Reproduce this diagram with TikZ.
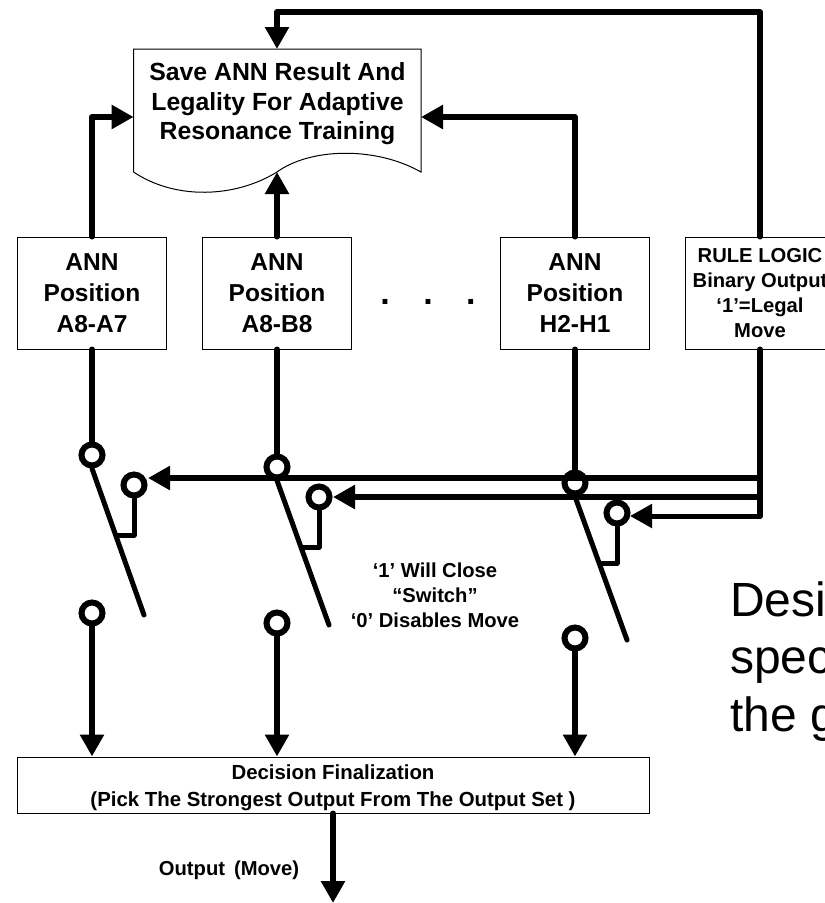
\documentclass[tikz,border=0pt]{standalone}
\usepackage{fontspec}
\setmainfont{Liberation Sans}
\usetikzlibrary{arrows.meta,positioning,calc}
\tikzset{
  annbox/.style={draw, line width=1pt, minimum width=149pt, minimum height=112pt, inner sep=0pt, align=center},
  annlabel/.style={font=\bfseries\fontsize{24.5}{31}\selectfont},
  smalllabel/.style={font=\bfseries\fontsize{20.2}{25}\selectfont, align=center, inner sep=0pt},
  contact/.style={circle, draw, fill=white, line width=6pt, minimum size=21pt, inner sep=0pt},
  wire/.style={line width=6pt, line join=round, line cap=round},
  thinwire/.style={line width=5pt, line join=round, line cap=round},
  flow/.style={wire, -{Triangle[length=22pt,width=23pt]}},
  sidetext/.style={anchor=base west, inner sep=0pt, font=\fontsize{48}{57.5}\selectfont}
}
\begin{document}
\begin{tikzpicture}[x=1pt,y=-1pt]
    \useasboundingbox (0,0) rectangle (825,903);
    \clip (0,0) rectangle (825,903);
    % result sheet with wavy lower edge
    \draw[line width=1pt] (133.6,172) -- (133.6,49) -- (421,49) -- (421,172)
      .. controls (375,146) and (310,148) .. (277,172)
      .. controls (235,198) and (175,200) .. (133.6,172);
    \node[align=center, inner sep=0pt, font=\bfseries\fontsize{24.8}{29.5}\selectfont] (saveResult) at (277.5,104)
      {Save ANN Result And\\Legality For Adaptive\\Resonance Training};
    \coordinate (saveTop) at (277,49);
    \coordinate (saveLeft) at (133.6,117);
    \coordinate (saveRight) at (421,117);
    \coordinate (saveBottom) at (277,172);
    % network boxes
    \node[annbox, annlabel] (annA) at (92,293) {ANN\\Position\\A8-A7};
    \node[annbox, annlabel] (annB) at (277,293) {ANN\\Position\\A8-B8};
    \node[annbox, annlabel] (annC) at (575,293) {ANN\\Position\\H2-H1};
    \node[annbox, smalllabel] (ruleLogic) at (760,293) {RULE LOGIC\\Binary Output\\‘1’=Legal\\Move};
    \node[anchor=base, inner sep=0pt, font=\bfseries\fontsize{34}{34}\selectfont] (moreDots) at (428,304) {.\hspace{33.5pt}.\hspace{33.5pt}.};
    % final box
    \node[draw, line width=1pt, minimum width=632pt, minimum height=56pt, inner sep=0pt] (finalBox) at (333,785) {};
    \node[smalllabel, font=\bfseries\fontsize{20.4}{27}\selectfont] (finalLabel) at (333,788)
      {Decision Finalization\\(Pick The Strongest Output From The Output Set )};
    % switches: name, x, top y, lower y
    \foreach \n/\x/\y/\z in {A/92/455/613, B/277/467/623, C/575/483/638}{
      \node[contact] (top\n) at (\x,\y) {};
      \node[contact] (ctrl\n) at (\x+42,\y+30) {};
      \node[contact] (low\n) at (\x,\z) {};
      \coordinate (armEnd\n) at (\x+52,\z+2);
      \coordinate (armTap\n) at (\x+25,\y+80);
      \draw[thinwire] (top\n.south) -- (armEnd\n);
      \draw[thinwire] (ctrl\n.south) |- (armTap\n);
      \draw[wire] (ann\n.south) -- (top\n.north);
      \draw[flow] (low\n.south) -- (low\n.south |- finalBox.north);
    }
    % legality bus
    \coordinate (busA) at (760,478);
    \coordinate (busB) at (760,497);
    \coordinate (busC) at (760,516);
    \coordinate (tipA) at (148,478);
    \coordinate (tipB) at (333,497);
    \coordinate (tipC) at (630,516);
    \draw[wire] (ruleLogic.south) -- (busC);
    \draw[flow] (busA) -- (tipA);
    \draw[flow] (busB) -- (tipB);
    \draw[thinwire, -{Triangle[length=22pt,width=23pt]}] (busC) -- (tipC);
    % feedback to sheet
    \draw[flow] (annA.north) |- (saveLeft);
    \draw[flow] (annB.north) -- (saveBottom);
    \draw[flow] (annC.north) |- (saveRight);
    \draw[flow] (ruleLogic.north) |- (saveTop |- 0,12) -- (saveTop);
    % output
    \coordinate (outEnd) at (333,903);
    \draw[flow] (finalBox.south) -- (outEnd);
    \node[smalllabel] (outLabel) at (229,870) {Output\, (Move)};
    \node[smalllabel] (closeNote) at (435,595) {‘1’ Will Close\\“Switch”\\‘0’ Disables Move};
    % text running off the page
    \node[sidetext] (sideA) at (730,616) {Desi};
    \node[sidetext] (sideB) at (730,673) {spec};
    \node[sidetext] (sideC) at (730,731) {the g};
  \end{tikzpicture}
\end{document}
